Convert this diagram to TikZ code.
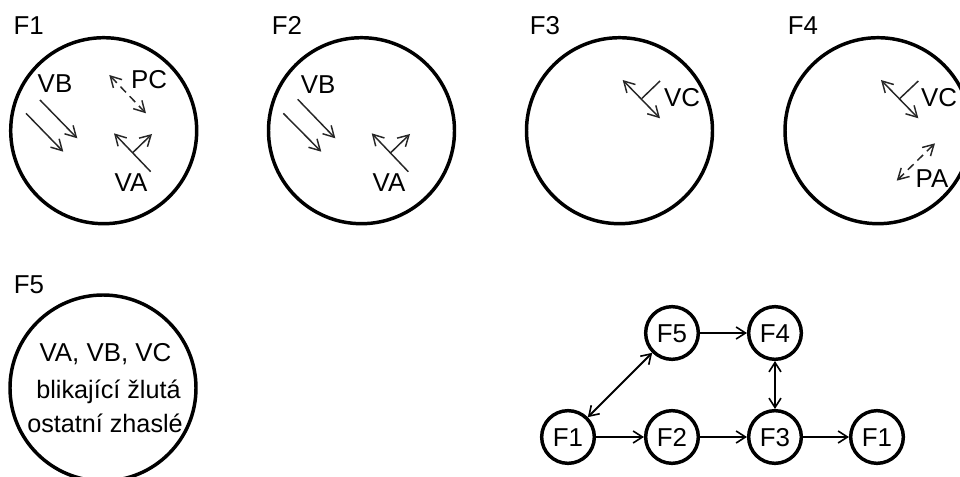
\documentclass[tikz,border=0pt]{standalone}
\usepackage{fontspec}
\setmainfont{Liberation Sans}
\usetikzlibrary{arrows.meta}
\tikzset{
  x=0.75pt,y=-0.75pt,
  bigstate/.style={circle,draw,line width=2.6pt,minimum size=139.5pt,inner sep=0pt},
  smallstate/.style={circle,draw,line width=2.6pt,minimum size=39.5pt,inner sep=0pt,text height=13.9pt,text depth=0pt,font=\fontsize{19.4}{22}\selectfont},
  lbl/.style={inner sep=0pt,text height=13.9pt,text depth=0pt,font=\fontsize{19.4}{22}\selectfont},
  smalltxt/.style={inner sep=0pt,font=\fontsize{18.9}{22}\selectfont},
  tipb/.style={-{Straight Barb[length=8pt,width=9pt,line width=1.1pt]}},
  tipbb/.style={{Straight Barb[length=8pt,width=9pt,line width=1.1pt]}-{Straight Barb[length=8pt,width=9pt,line width=1.1pt]}},
  sig/.style={line width=1.1pt,draw=black!85},
  dsh/.style={dash pattern=on 6pt off 4pt},
  trans/.style={line width=1.8pt,-{Straight Barb[length=7pt,width=9pt,line width=1.2pt]}},
  transb/.style={line width=1.5pt,{Straight Barb[length=7pt,width=9pt,line width=1.2pt]}-{Straight Barb[length=7pt,width=9pt,line width=1.2pt]}},
}
\begin{document}
\begin{tikzpicture}
\useasboundingbox (0,0) rectangle (960,477);
\clip (0,0) rectangle (960,477);
% phase circles
\node[bigstate] (C1) at (103.7,130.7) {};
\node[bigstate] (C2) at (361.5,130.7) {};
\node[bigstate] (C3) at (619.5,130.7) {};
\node[bigstate] (C4) at (878,130.7) {};
\node[bigstate] (C5) at (103,388) {};
% titles
\node[lbl] (T1) at (28.7,25) {F1};
\node[lbl] (T2) at (287,25) {F2};
\node[lbl] (T3) at (545,25) {F3};
\node[lbl] (T4) at (803,25) {F4};
\node[lbl] (T5) at (29,284) {F5};
% F1
\node[lbl] (L1b) at (55,83) {VB};
\node[lbl] (L1p) at (149,79.5) {PC};
\node[lbl] (L1a) at (131,182) {VA};
\draw[sig,tipb] (40,100) -- (77.3,138.3);
\draw[sig,tipb] (26,113.3) -- (63.3,151.7);
\draw[sig,dsh,tipbb] (146,113.3) -- (109.3,75);
\draw[sig,tipb] (150.7,171.7) -- (114,133.3);
\draw[sig,tipb] (132.7,152.7) -- (152,134);
% F2
\node[lbl] (L2b) at (318,84) {VB};
\node[lbl] (L2a) at (389,182) {VA};
\draw[sig,tipb] (297.7,99.3) -- (335.3,138.3);
\draw[sig,tipb] (283.3,113.3) -- (321.3,151.7);
\draw[sig,tipb] (408.3,171.7) -- (371.7,133.3);
\draw[sig,tipb] (390.7,152.7) -- (410,134);
% F3
\node[lbl] (L3c) at (682,97) {VC};
\draw[sig,tipbb] (660,118.3) -- (622.7,80);
\draw[sig] (660,81) -- (642,98.3);
% F4
\node[lbl] (L4c) at (939,97) {VC};
\node[lbl] (L4p) at (932,178) {PA};
\draw[sig,tipbb] (918.3,118.3) -- (881,80);
\draw[sig] (918.3,81) -- (900,98.3);
\draw[sig,dsh,tipbb] (896.7,180.7) -- (935,143.3);
% F5 text
\node[lbl] (L5a) at (105.5,352) {VA, VB, VC};
\node[smalltxt] (L5b) at (108.5,391.5) {blikající žlutá};
\node[smalltxt] (L5c) at (105,423.5) {ostatní zhaslé};
% state graph
\node[smallstate] (S5) at (672,333) {F5};
\node[smallstate] (S4) at (775,333) {F4};
\node[smallstate] (S1) at (568,437) {F1};
\node[smallstate] (S2) at (672,437) {F2};
\node[smallstate] (S3) at (775,437) {F3};
\node[smallstate] (S6) at (877,437) {F1};
\draw[trans] (S5) -- (S4);
\draw[transb] (S1) -- (S5);
\draw[transb] (S4) -- (S3);
\draw[trans] (S1) -- (S2);
\draw[trans] (S2) -- (S3);
\draw[trans] (S3) -- (S6);
\end{tikzpicture}
\end{document}
